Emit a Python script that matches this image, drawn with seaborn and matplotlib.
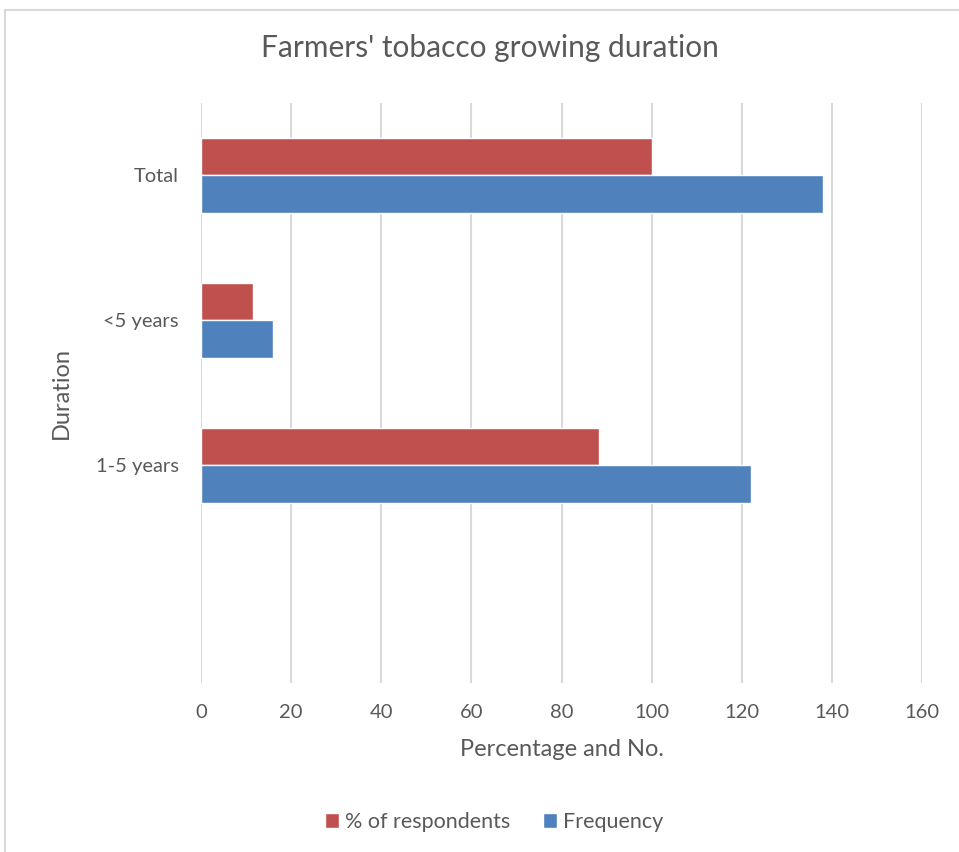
import matplotlib
matplotlib.use("Agg")
import matplotlib.pyplot as plt
import seaborn as sns
import pandas as pd
from matplotlib.patches import Rectangle

# data
categories = ["Total", "<5 years", "1-5 years"]
percent = [100, 11.6, 88.4]
frequency = [138, 16, 122]
series = ["% of respondents", "Frequency"]
order = categories + [" "]   # empty slot at the bottom, as in the original

df = pd.DataFrame({
    "Duration": categories * 2,
    "value": percent + frequency,
    "series": [series[0]] * 3 + [series[1]] * 3,
})

sns.set_theme(style="white")
plt.rcParams["font.family"] = ["Lato", "DejaVu Sans"]
text_col = "#595959"

fig = plt.figure(figsize=(9.59, 8.52), dpi=100)
ax = fig.add_axes([201 / 959, 1 - 683 / 852, 721 / 959, 580 / 852])

sns.barplot(data=df, x="value", y="Duration", hue="series", order=order,
            hue_order=series, palette=["#C0504D", "#4F81BD"], orient="h",
            width=0.518, gap=0, saturation=1, ax=ax, legend=True)

ax.set_xlim(0, 160)
ax.set_xticks(range(0, 161, 20))
ax.grid(axis="x", color="#D9D9D9", linewidth=1.5)
ax.set_axisbelow(True)
for s in ax.spines.values():
    s.set_visible(False)
ax.tick_params(axis="both", length=0, labelsize=14.5, colors=text_col)
ax.tick_params(axis="y", pad=16)
ax.tick_params(axis="x", pad=15)

ax.set_xlabel("Percentage and No.", fontsize=17, color=text_col, labelpad=13)
ax.set_ylabel("Duration", fontsize=17, color=text_col, labelpad=17)
fig.suptitle("Farmers' tobacco growing duration", x=490 / 959, y=1 - 48 / 852,
             va="center", fontsize=21.5, color=text_col)

handles, labels = ax.get_legend_handles_labels()
ax.legend_.remove()
fig.legend(handles, labels, loc="center", bbox_to_anchor=(494 / 959, 1 - 822 / 852),
           ncol=2, frameon=False, fontsize=15.5, labelcolor=text_col,
           handlelength=0.65, handleheight=0.65, handletextpad=0.3, columnspacing=1.5)

# outer chart border
fig.patches.append(Rectangle((5 / 959, -0.01), 1.0, 1 - 10 / 852 + 0.01,
                             transform=fig.transFigure, fill=False,
                             edgecolor="#D9D9D9", linewidth=1.5))

fig.savefig("out.png", dpi=100)
